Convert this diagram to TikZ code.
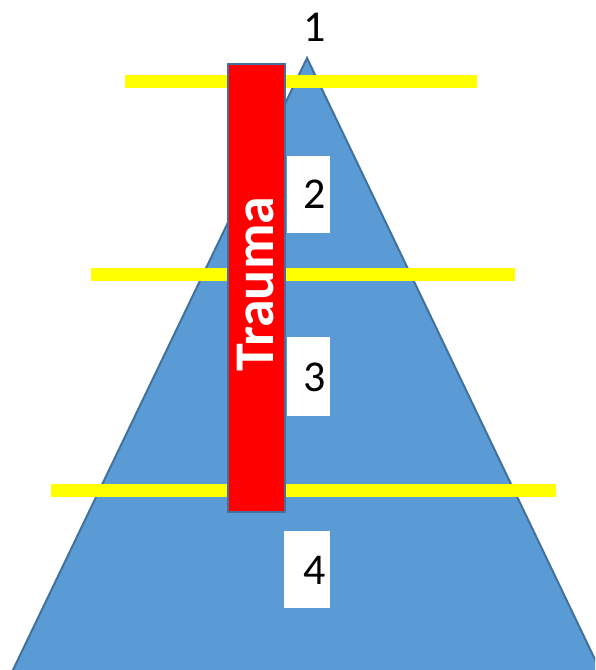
\documentclass[tikz,border=0pt]{standalone}
\usepackage{fontspec}
\setmainfont{Carlito}
\definecolor{pyrblue}{HTML}{5B9BD5}
\definecolor{pyredge}{HTML}{41719C}
\definecolor{cutyellow}{HTML}{FFFF00}
\tikzset{
  cutline/.style={cutyellow, line width=13pt},
  numbox/.style={fill=white},
  numlabel/.style={font=\fontsize{44}{44}\selectfont, text=black, inner sep=0pt}
}
\begin{document}
\begin{tikzpicture}[x=1pt, y=-1pt]
      \useasboundingbox (0,0) rectangle (595,670);
      \clip (0,0) rectangle (595,670);

      % Pyramid
      \filldraw[fill=pyrblue, draw=pyredge, line width=2pt] (307,58) -- (601,672) -- (12,672) -- cycle;

      % Level lines
      \draw[cutline] (125,81) -- (477,81);
      \draw[cutline] (91,274) -- (515,274);
      \draw[cutline] (51,490.5) -- (556,490.5);

      % Trauma bar
      \filldraw[fill=red, draw=pyredge, line width=2.5pt] (228,64) rectangle (285,512);
      \node[rotate=90, text=white, inner sep=0pt, font=\bfseries\fontsize{56}{56}\selectfont] (trauma) at (256,284) {Trauma};

      % Level numbers
      \node[numlabel] (lvl1) at (315,27) {1};
      \fill[numbox] (287,156) rectangle (330,233);
      \node[numlabel] (lvl2) at (315,194.5) {2};
      \fill[numbox] (287,337) rectangle (330,416);
      \node[numlabel] (lvl3) at (315,377) {3};
      \fill[numbox] (284,531) rectangle (330,608);
      \node[numlabel] (lvl4) at (315,570) {4};

\end{tikzpicture}
\end{document}
